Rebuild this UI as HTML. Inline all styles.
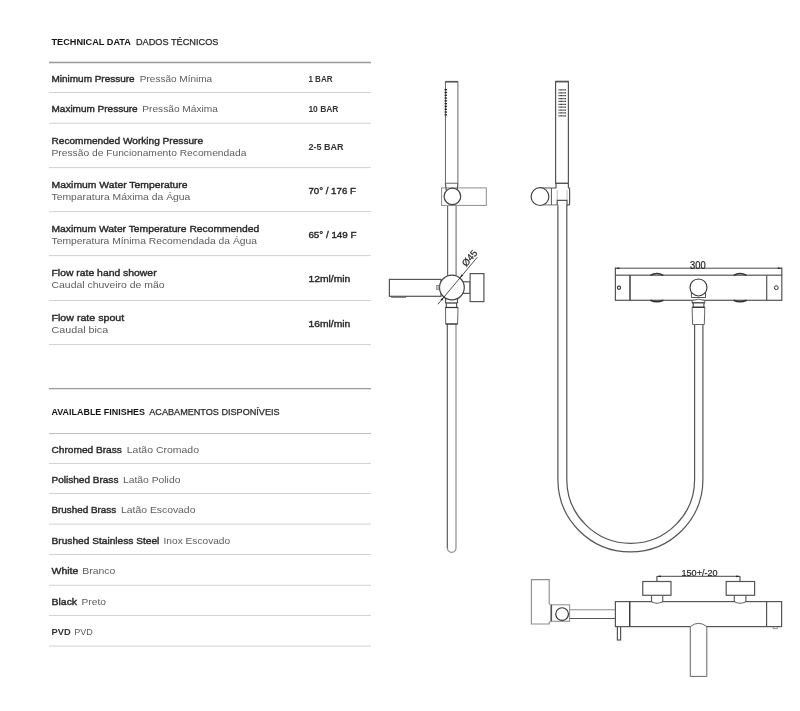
<!DOCTYPE html>
<html><head><meta charset="utf-8">
<style>
html,body{margin:0;padding:0;background:#fff;}
body{width:800px;height:711px;overflow:hidden;}
svg{display:block;font-family:"Liberation Sans",sans-serif;will-change:transform;}
</style></head>
<body>
<svg width="800" height="711" viewBox="0 0 800 711">
<rect width="800" height="711" fill="#fff"/>
<line x1="49" y1="62.5" x2="371" y2="62.5" stroke="#9a9a9a" stroke-width="1.4"/>
<line x1="49" y1="388.6" x2="371" y2="388.6" stroke="#9a9a9a" stroke-width="1.4"/>
<line x1="49" y1="433.5" x2="371" y2="433.5" stroke="#bdbdbd" stroke-width="1.1"/>
<line x1="49" y1="92.5" x2="371" y2="92.5" stroke="#d2d2d2" stroke-width="1"/>
<line x1="49" y1="123.3" x2="371" y2="123.3" stroke="#d2d2d2" stroke-width="1"/>
<line x1="49" y1="167.6" x2="371" y2="167.6" stroke="#d2d2d2" stroke-width="1"/>
<line x1="49" y1="211.6" x2="371" y2="211.6" stroke="#d2d2d2" stroke-width="1"/>
<line x1="49" y1="255.6" x2="371" y2="255.6" stroke="#d2d2d2" stroke-width="1"/>
<line x1="49" y1="300.5" x2="371" y2="300.5" stroke="#d2d2d2" stroke-width="1"/>
<line x1="49" y1="344.5" x2="371" y2="344.5" stroke="#d2d2d2" stroke-width="1"/>
<line x1="49" y1="463.5" x2="371" y2="463.5" stroke="#d2d2d2" stroke-width="1"/>
<line x1="49" y1="493.5" x2="371" y2="493.5" stroke="#d2d2d2" stroke-width="1"/>
<line x1="49" y1="524.1" x2="371" y2="524.1" stroke="#d2d2d2" stroke-width="1"/>
<line x1="49" y1="554.5" x2="371" y2="554.5" stroke="#d2d2d2" stroke-width="1"/>
<line x1="49" y1="585.3" x2="371" y2="585.3" stroke="#d2d2d2" stroke-width="1"/>
<line x1="49" y1="615.5" x2="371" y2="615.5" stroke="#d2d2d2" stroke-width="1"/>
<line x1="49" y1="646.1" x2="371" y2="646.1" stroke="#d2d2d2" stroke-width="1"/>
<text x="51.5" y="45" font-weight="bold" fill="#151515" font-size="9" textLength="79.4" lengthAdjust="spacingAndGlyphs">TECHNICAL DATA</text>
<text x="136.0" y="45" fill="#2a2a2a" font-size="9.05" textLength="82.4" lengthAdjust="spacingAndGlyphs" stroke="#2a2a2a" stroke-width="0.25">DADOS TÉCNICOS</text>
<text x="51.5" y="81.8" stroke="#2a2a2a" stroke-width="0.4" fill="#2a2a2a" font-size="9.44" textLength="83.1" lengthAdjust="spacingAndGlyphs">Minimum Pressure</text>
<text x="139.8" y="81.8" fill="#5c5c5c" font-size="9.8" textLength="72.4" lengthAdjust="spacingAndGlyphs">Pressão Mínima</text>
<text x="308.4" y="81.8" font-weight="bold" fill="#333" font-size="9.3" textLength="24.2" lengthAdjust="spacingAndGlyphs">1 BAR</text>
<text x="51.5" y="111.9" stroke="#2a2a2a" stroke-width="0.4" fill="#2a2a2a" font-size="9.47" textLength="86.1" lengthAdjust="spacingAndGlyphs">Maximum Pressure</text>
<text x="142.3" y="111.9" fill="#5c5c5c" font-size="9.8" textLength="75.6" lengthAdjust="spacingAndGlyphs">Pressão Máxima</text>
<text x="308.4" y="111.9" font-weight="bold" fill="#333" font-size="9.3" textLength="30.1" lengthAdjust="spacingAndGlyphs">10 BAR</text>
<text x="51.5" y="143.7" stroke="#2a2a2a" stroke-width="0.4" fill="#2a2a2a" font-size="9.64" textLength="151.6" lengthAdjust="spacingAndGlyphs">Recommended Working Pressure</text>
<text x="51.5" y="155.6" fill="#5c5c5c" font-size="9.8" textLength="194.85" lengthAdjust="spacingAndGlyphs">Pressão de Funcionamento Recomendada</text>
<text x="308.4" y="149.6" font-weight="bold" fill="#333" font-size="9.3" textLength="35.1" lengthAdjust="spacingAndGlyphs">2-5 BAR</text>
<text x="51.5" y="188.29999999999998" stroke="#2a2a2a" stroke-width="0.4" fill="#2a2a2a" font-size="9.8" textLength="136.1" lengthAdjust="spacingAndGlyphs">Maximum Water Temperature</text>
<text x="51.5" y="200.2" fill="#5c5c5c" font-size="9.8" textLength="138.85" lengthAdjust="spacingAndGlyphs">Temparatura Máxima da Água</text>
<text x="308.4" y="194.2" stroke="#2a2a2a" stroke-width="0.4" fill="#2a2a2a" font-size="9.5" textLength="47.5" lengthAdjust="spacingAndGlyphs">70° / 176 F</text>
<text x="51.5" y="232.2" stroke="#2a2a2a" stroke-width="0.4" fill="#2a2a2a" font-size="9.8" textLength="207.7" lengthAdjust="spacingAndGlyphs">Maximum Water Temperature Recommended</text>
<text x="51.5" y="244.1" fill="#5c5c5c" font-size="9.8" textLength="205.5" lengthAdjust="spacingAndGlyphs">Temperatura Mínima Recomendada da Água</text>
<text x="308.4" y="238.1" stroke="#2a2a2a" stroke-width="0.4" fill="#2a2a2a" font-size="9.5" textLength="48.1" lengthAdjust="spacingAndGlyphs">65° / 149 F</text>
<text x="51.5" y="276.3" stroke="#2a2a2a" stroke-width="0.4" fill="#2a2a2a" font-size="9.8" textLength="105.1" lengthAdjust="spacingAndGlyphs">Flow rate hand shower</text>
<text x="51.5" y="288.2" fill="#5c5c5c" font-size="9.8" textLength="113.1" lengthAdjust="spacingAndGlyphs">Caudal chuveiro de mão</text>
<text x="308.4" y="282.2" stroke="#2a2a2a" stroke-width="0.4" fill="#2a2a2a" font-size="9.5" textLength="41.9" lengthAdjust="spacingAndGlyphs">12ml/min</text>
<text x="51.5" y="321.2" stroke="#2a2a2a" stroke-width="0.4" fill="#2a2a2a" font-size="9.8" textLength="72.7" lengthAdjust="spacingAndGlyphs">Flow rate spout</text>
<text x="51.5" y="333.1" fill="#5c5c5c" font-size="9.8" textLength="56.7" lengthAdjust="spacingAndGlyphs">Caudal bica</text>
<text x="308.4" y="327.1" stroke="#2a2a2a" stroke-width="0.4" fill="#2a2a2a" font-size="9.5" textLength="41.9" lengthAdjust="spacingAndGlyphs">16ml/min</text>
<text x="51.5" y="415.4" font-weight="bold" fill="#151515" font-size="9" textLength="93.5" lengthAdjust="spacingAndGlyphs">AVAILABLE FINISHES</text>
<text x="149.3" y="415.4" fill="#2a2a2a" font-size="9.02" textLength="130.3" lengthAdjust="spacingAndGlyphs" stroke="#2a2a2a" stroke-width="0.25">ACABAMENTOS DISPONÍVEIS</text>
<text x="51.5" y="453.0" stroke="#2a2a2a" stroke-width="0.4" fill="#2a2a2a" font-size="9.58" textLength="70.4" lengthAdjust="spacingAndGlyphs">Chromed Brass</text>
<text x="126.8" y="453.0" fill="#5c5c5c" font-size="9.8" textLength="72.2" lengthAdjust="spacingAndGlyphs">Latão Cromado</text>
<text x="51.5" y="483.0" stroke="#2a2a2a" stroke-width="0.4" fill="#2a2a2a" font-size="9.47" textLength="66.9" lengthAdjust="spacingAndGlyphs">Polished Brass</text>
<text x="122.9" y="483.0" fill="#5c5c5c" font-size="9.8" textLength="57.5" lengthAdjust="spacingAndGlyphs">Latão Polido</text>
<text x="51.5" y="513.0" stroke="#2a2a2a" stroke-width="0.4" fill="#2a2a2a" font-size="9.31" textLength="64.7" lengthAdjust="spacingAndGlyphs">Brushed Brass</text>
<text x="121.1" y="513.0" fill="#5c5c5c" font-size="9.8" textLength="74.3" lengthAdjust="spacingAndGlyphs">Latão Escovado</text>
<text x="51.5" y="543.6" stroke="#2a2a2a" stroke-width="0.4" fill="#2a2a2a" font-size="9.65" textLength="107.85" lengthAdjust="spacingAndGlyphs">Brushed Stainless Steel</text>
<text x="163.55" y="543.6" fill="#5c5c5c" font-size="9.8" textLength="66.6" lengthAdjust="spacingAndGlyphs">Inox Escovado</text>
<text x="51.5" y="574.0" stroke="#2a2a2a" stroke-width="0.4" fill="#2a2a2a" font-size="9.67" textLength="26.85" lengthAdjust="spacingAndGlyphs">White</text>
<text x="82.3" y="574.0" fill="#5c5c5c" font-size="9.8" textLength="33.1" lengthAdjust="spacingAndGlyphs">Branco</text>
<text x="51.5" y="604.8" stroke="#2a2a2a" stroke-width="0.4" fill="#2a2a2a" font-size="9.62" textLength="25.6" lengthAdjust="spacingAndGlyphs">Black</text>
<text x="81.55" y="604.8" fill="#5c5c5c" font-size="9.73" textLength="24.35" lengthAdjust="spacingAndGlyphs">Preto</text>
<text x="51.5" y="635.0" font-weight="bold" fill="#333" font-size="9.0" textLength="19.1" lengthAdjust="spacingAndGlyphs">PVD</text>
<text x="74.3" y="635.0" fill="#5c5c5c" font-size="9.0" textLength="18.6" lengthAdjust="spacingAndGlyphs">PVD</text>
<path d="M447.4 324 V548 A4.3 4.3 0 0 0 456 548 V324" stroke="#8c8c8c" stroke-width="1.2" fill="none"/>
<line x1="447.4" y1="324" x2="447.4" y2="548" stroke="#6a6a6a" stroke-width="1.2"/>
<line x1="447.6" y1="204" x2="447.6" y2="276" stroke="#6a6a6a" stroke-width="1.2"/>
<line x1="456.1" y1="204" x2="456.1" y2="276" stroke="#8c8c8c" stroke-width="1.4"/>
<rect x="441.6" y="187.9" width="44.7" height="17.5" stroke="#8c8c8c" stroke-width="1" fill="#fff"/>
<rect x="445.4" y="81.7" width="12.5" height="101.5" stroke="#555555" stroke-width="0.9" fill="#fff"/>
<line x1="445.4" y1="81.7" x2="457.9" y2="81.7" stroke="#555555" stroke-width="1.6"/>
<path d="M445.4 183.2 L446.2 190 M457.9 183.2 L457.2 190" stroke="#555555" stroke-width="1.2" fill="none"/>
<circle cx="452.4" cy="196.4" r="8.3" stroke="#444" stroke-width="1.2" fill="#fff"/>
<rect x="444.6" y="89.00" width="2.4" height="1.3" fill="#222"/>
<rect x="444.6" y="91.80" width="2.4" height="1.3" fill="#222"/>
<rect x="444.6" y="94.60" width="2.4" height="1.3" fill="#222"/>
<rect x="444.6" y="97.40" width="2.4" height="1.3" fill="#222"/>
<rect x="444.6" y="100.20" width="2.4" height="1.3" fill="#222"/>
<rect x="444.6" y="103.00" width="2.4" height="1.3" fill="#222"/>
<rect x="444.6" y="105.80" width="2.4" height="1.3" fill="#222"/>
<rect x="444.6" y="108.60" width="2.4" height="1.3" fill="#222"/>
<rect x="444.6" y="111.40" width="2.4" height="1.3" fill="#222"/>
<rect x="444.6" y="114.20" width="2.4" height="1.3" fill="#222"/>
<rect x="389.4" y="279.4" width="51.6" height="16.9" stroke="#555555" stroke-width="1.2" fill="#fff"/>
<rect x="391.5" y="296.3" width="14.3" height="1.2" stroke="#555" stroke-width="0.5" fill="#777"/>
<rect x="463" y="281.8" width="7.1" height="11.6" stroke="#555555" stroke-width="1.2" fill="#fff"/>
<rect x="470.1" y="273.6" width="13.8" height="28.0" stroke="#555555" stroke-width="1.2" fill="#fff"/>
<path d="M445.6 296 V303 M457.5 296 V303" stroke="#555555" stroke-width="1.2" fill="none"/>
<line x1="445.6" y1="303" x2="457.5" y2="303" stroke="#333" stroke-width="1.2"/>
<path d="M446.3 303 V307.5 M456.6 303 V307.5" stroke="#555555" stroke-width="1.2" fill="none"/>
<path d="M445.5 307.5 H458 L457.6 324 H445.7 Z" stroke="#555555" stroke-width="0.9" fill="#fff"/>
<line x1="445.5" y1="307.5" x2="458" y2="307.5" stroke="#333" stroke-width="1.2"/>
<line x1="445.7" y1="324" x2="457.6" y2="324" stroke="#333" stroke-width="1.1"/>
<circle cx="451.9" cy="287.5" r="12.4" stroke="#444" stroke-width="1.2" fill="#fff"/>
<rect x="436.5" y="285.4" width="2.6" height="4.3" stroke="#666" stroke-width="0.5" fill="#bbb"/>
<line x1="438" y1="304.2" x2="477.3" y2="257.2" stroke="#222" stroke-width="0.8"/>
<path d="M443.95 297.01 L442.22 300.79 L440.54 299.38Z" fill="#222"/>
<path d="M459.85 277.99 L461.58 274.21 L463.26 275.62Z" fill="#222"/>
<text x="0" y="0" font-size="9.6" fill="#1e1e1e" stroke="#1e1e1e" stroke-width="0.2" transform="translate(466.3,267.3) rotate(-50.1)">Ø45</text>
<path d="M557.9 204.9 V479.5 A72.5 72.5 0 0 0 702.9 479.5 V324.5" stroke="#555555" stroke-width="1.2" fill="none"/>
<path d="M566.8 204.9 V479.5 A63.9 63.9 0 0 0 694.6 479.5 V324.5" stroke="#555555" stroke-width="1.2" fill="none"/>
<rect x="555.6" y="81.5" width="12.8" height="101.8" stroke="#555555" stroke-width="1.2" fill="#fff"/>
<line x1="555.6" y1="81.6" x2="568.4" y2="81.6" stroke="#555555" stroke-width="1.6"/>
<line x1="558.5" y1="89.90" x2="565.9" y2="89.90" stroke="#2a2a2a" stroke-width="1.25" stroke-dasharray="0.95 0.35"/>
<line x1="558.5" y1="92.78" x2="565.9" y2="92.78" stroke="#2a2a2a" stroke-width="1.25" stroke-dasharray="0.95 0.35"/>
<line x1="558.5" y1="95.66" x2="565.9" y2="95.66" stroke="#2a2a2a" stroke-width="1.25" stroke-dasharray="0.95 0.35"/>
<line x1="558.5" y1="98.54" x2="565.9" y2="98.54" stroke="#2a2a2a" stroke-width="1.25" stroke-dasharray="0.95 0.35"/>
<line x1="558.5" y1="101.42" x2="565.9" y2="101.42" stroke="#2a2a2a" stroke-width="1.25" stroke-dasharray="0.95 0.35"/>
<line x1="558.5" y1="104.30" x2="565.9" y2="104.30" stroke="#2a2a2a" stroke-width="1.25" stroke-dasharray="0.95 0.35"/>
<line x1="558.5" y1="107.18" x2="565.9" y2="107.18" stroke="#2a2a2a" stroke-width="1.25" stroke-dasharray="0.95 0.35"/>
<line x1="558.5" y1="110.06" x2="565.9" y2="110.06" stroke="#2a2a2a" stroke-width="1.25" stroke-dasharray="0.95 0.35"/>
<line x1="558.5" y1="112.94" x2="565.9" y2="112.94" stroke="#2a2a2a" stroke-width="1.25" stroke-dasharray="0.95 0.35"/>
<line x1="558.5" y1="115.82" x2="565.9" y2="115.82" stroke="#2a2a2a" stroke-width="1.25" stroke-dasharray="0.95 0.35"/>
<line x1="555.6" y1="183.4" x2="568.4" y2="183.4" stroke="#555555" stroke-width="1.2"/>
<path d="M540 188 H556 V183.4" stroke="#555555" stroke-width="1.2" fill="none"/>
<path d="M568.4 183.4 V187.8 H569 Q569.6 187.8 569.6 188.6 V204.2 Q569.6 204.9 569 204.9 H566.8" stroke="#555555" stroke-width="1.2" fill="none"/>
<path d="M557.9 204.9 H540" stroke="#8c8c8c" stroke-width="1.2" fill="none"/>
<line x1="551.4" y1="188" x2="551.4" y2="204.9" stroke="#555555" stroke-width="1"/>
<line x1="557.2" y1="190" x2="557.2" y2="200.4" stroke="#bbb" stroke-width="1"/>
<line x1="567" y1="190" x2="567" y2="200.4" stroke="#bbb" stroke-width="1"/>
<path d="M557.2 204.9 V200.4 H567 V204.9" stroke="#555555" stroke-width="1.2" fill="none"/>
<circle cx="540" cy="196.6" r="8.9" stroke="#444" stroke-width="1.2" fill="#fff"/>
<rect x="615.4" y="275.2" width="166.4" height="25.1" stroke="#555555" stroke-width="1.2" fill="#fff"/>
<line x1="630" y1="275.2" x2="630" y2="300.3" stroke="#333" stroke-width="1.4"/>
<line x1="766.7" y1="275.2" x2="766.7" y2="300.3" stroke="#555555" stroke-width="1.2"/>
<circle cx="619" cy="287.75" r="1.6" stroke="#333" stroke-width="1.1" fill="#fff"/>
<circle cx="776.3" cy="287.7" r="1.9" stroke="#333" stroke-width="1.0" fill="#fff"/>
<path d="M650.4 275.3 Q656.9 271.6 663.4 275.3" stroke="#333" stroke-width="1.5" fill="none"/>
<path d="M650.4 300.3 Q656.9 303.4 663.4 300.3" stroke="#333" stroke-width="1.5" fill="none"/>
<path d="M733.6 275.3 Q740.1 271.6 746.6 275.3" stroke="#333" stroke-width="1.5" fill="none"/>
<path d="M733.6 300.3 Q740.1 303.4 746.6 300.3" stroke="#333" stroke-width="1.5" fill="none"/>
<path d="M692.1 302.9 V300.6 Q698.5 297.6 704.8 300.6 V302.9 Z" stroke="#555555" stroke-width="0.9" fill="#fff"/>
<line x1="692.1" y1="302.9" x2="704.8" y2="302.9" stroke="#333" stroke-width="1.2"/>
<rect x="693.3" y="302.9" width="10.6" height="4.4" stroke="#555555" stroke-width="1.2" fill="#fff"/>
<path d="M692.1 307.3 H704.8 L704.3 324.5 H692.6 Z" stroke="#555555" stroke-width="0.9" fill="#fff"/>
<line x1="692.1" y1="307.3" x2="704.8" y2="307.3" stroke="#333" stroke-width="1.1"/>
<path d="M691.4 291 V297.5 H705.5 V291" stroke="#555555" stroke-width="1.0" fill="#fff"/>
<circle cx="698.5" cy="287.45" r="8.5" stroke="#333" stroke-width="1.1" fill="#fff"/>
<line x1="615.4" y1="267.4" x2="615.4" y2="275.2" stroke="#555555" stroke-width="1.2"/>
<line x1="781.8" y1="267.4" x2="781.8" y2="275.2" stroke="#555555" stroke-width="1.2"/>
<line x1="615.4" y1="268.2" x2="781.8" y2="268.2" stroke="#333" stroke-width="0.9"/>
<path d="M615.4 268.2 L619.4 267.3 L619.4 269.1Z" fill="#222"/>
<path d="M781.8 268.2 L777.8 267.3 L777.8 269.1Z" fill="#222"/>
<text x="690.1" y="268.5" font-size="10" fill="#1e1e1e" stroke="#1e1e1e" stroke-width="0.2" textLength="15.6" lengthAdjust="spacingAndGlyphs">300</text>
<path d="M550.6 604.8 L549.2 603.6 V579.6 H531.4 V624 H549.2 V622.6 L550.6 621.3" stroke="#8c8c8c" stroke-width="1.1" fill="#fff"/>
<rect x="550.7" y="604.8" width="18.9" height="16.5" stroke="#8c8c8c" stroke-width="1" fill="#fff"/>
<line x1="551.5" y1="604.8" x2="551.5" y2="621.3" stroke="#555555" stroke-width="1.2"/>
<circle cx="562.1" cy="614.1" r="6.35" stroke="#333" stroke-width="1.2" fill="#fff"/>
<line x1="569.75" y1="609.75" x2="615.4" y2="609.75" stroke="#8c8c8c" stroke-width="1.2"/>
<line x1="569.75" y1="618.5" x2="615.4" y2="618.5" stroke="#555555" stroke-width="1.2"/>
<rect x="615.4" y="601.6" width="166.2" height="25.0" stroke="#555555" stroke-width="1.2" fill="#fff"/>
<line x1="629.75" y1="601.6" x2="629.75" y2="626.6" stroke="#333" stroke-width="1.4"/>
<line x1="766.6" y1="601.6" x2="766.6" y2="626.6" stroke="#555555" stroke-width="1.2"/>
<rect x="617.4" y="626.6" width="3.2" height="13.4" stroke="#555555" stroke-width="1.2" fill="#fff"/>
<path d="M773 626.6 V628.6 H777.6 V626.6" stroke="#555555" stroke-width="0.6" fill="none"/>
<path d="M651.5 595.3 V601.6 Q657.125 605 662.75 601.6 V595.3" stroke="#555555" stroke-width="1.1" fill="#fff"/>
<rect x="642.75" y="581.5" width="28.25" height="13.8" stroke="#555555" stroke-width="1.2" fill="#fff"/>
<path d="M734.3 595.3 V601.6 Q740.0999999999999 605 745.9 601.6 V595.3" stroke="#555555" stroke-width="1.1" fill="#fff"/>
<rect x="726.2" y="581.5" width="28.4" height="13.8" stroke="#555555" stroke-width="1.2" fill="#fff"/>
<line x1="656.9" y1="576.3" x2="656.9" y2="581.5" stroke="#555555" stroke-width="1.2"/>
<line x1="740" y1="576.3" x2="740" y2="581.5" stroke="#555555" stroke-width="1.2"/>
<line x1="656.9" y1="576.3" x2="740" y2="576.3" stroke="#333" stroke-width="0.9"/>
<path d="M656.9 576.3 L660.9 575.4 L660.9 577.2Z" fill="#222"/>
<path d="M740 576.3 L736 575.4 L736 577.2Z" fill="#222"/>
<text x="681.5" y="575.7" font-size="9.8" fill="#1e1e1e" stroke="#1e1e1e" stroke-width="0.2" textLength="36.1" lengthAdjust="spacingAndGlyphs">150+/-20</text>
<path d="M690.3 626.6 Q698.5 620 706.8 626.6 V676.4 H690.3 Z" stroke="#555555" stroke-width="0.9" fill="#fff"/>
</svg>
</body></html>
